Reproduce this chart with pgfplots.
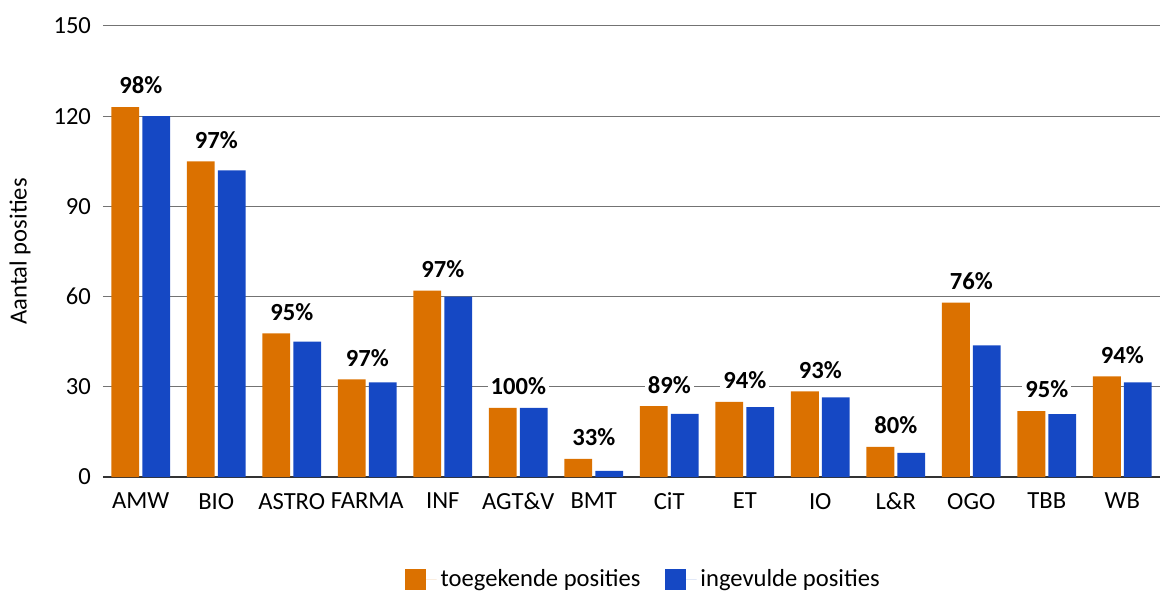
\documentclass[border=0pt]{standalone}
\usepackage{pgfplots}
\pgfplotsset{compat=1.18}
\usepackage{fontspec}
\setmainfont{Carlito}
\definecolor{cor}{HTML}{DB7100}
\definecolor{cbl}{HTML}{1548C4}
\begin{document}
\begin{tikzpicture}
\useasboundingbox (-51.5pt,-58.5pt) rectangle (528.5pt,238.5pt);
\begin{axis}[
  at={(0,0)}, anchor=south west,
  scale only axis, width=528.5pt, height=225.5pt,
  xmin=-0.5, xmax=13.5, ymin=0, ymax=150,
  xtick={0,...,13},
  xticklabels={AMW,BIO,ASTRO,FARMA,INF,AGT\&V,BMT,CiT,ET,IO,L\&R,OGO,TBB,WB},
  ytick={0,30,60,90,120,150},
  major tick length=0pt,
  axis x line*=bottom, axis y line*=left,
  y axis line style={draw=none},
  x axis line style={draw=black!80, line width=0.7pt},
  ymajorgrids, grid style={draw=black!55, line width=0.5pt},
  font=\fontsize{12.3}{14}\selectfont,
  /pgf/number format/assume math mode=true,
  yticklabel style={xshift=-2.5pt},
  xticklabel style={yshift=-4.5pt},
  every axis y label/.style={at={(axis description cs:-0.0785,0.5)}, rotate=90, anchor=center},
  ylabel={Aantal posities},
  legend style={at={(axis description cs:0.512,-0.228)}, anchor=center, draw=none, legend columns=2,
    /tikz/every even column/.append style={column sep=10pt},
    font=\fontsize{12.3}{14}\selectfont},
  legend image code/.code={\fill[#1] (0pt,-5.25pt) rectangle (10.5pt,5.25pt); \path (10.5pt,0pt) -- (16pt,0pt);},
]
\addplot[ybar, bar width=0.37, bar shift=-0.205, fill=cor, draw=none] coordinates {
(0,123) (1,105) (2,47.8) (3,32.5) (4,62) (5,23) (6,6) (7,23.6) (8,25) (9,28.5) (10,10) (11,58) (12,21.9) (13,33.5)};
\addlegendentry{toegekende posities}
\addplot[ybar, bar width=0.37, bar shift=0.205, fill=cbl, draw=none] coordinates {
(0,120) (1,102) (2,45) (3,31.5) (4,60) (5,23) (6,2) (7,21) (8,23.2) (9,26.5) (10,8) (11,43.8) (12,20.9) (13,31.5)};
\addlegendentry{ingevulde posities}
\addplot[draw=none, mark=none, forget plot, nodes near coords, point meta=explicit symbolic,
  nodes near coords style={anchor=center, font=\fontsize{12.3}{14}\selectfont\bfseries, fill=white, inner sep=1.5pt}]
coordinates {
(0,130.3)[98\%] (1,112.1)[97\%] (2,54.9)[95\%] (3,39.6)[97\%] (4,69.1)[97\%] (5,30.2)[100\%] (6,13.1)[33\%]
(7,30.4)[89\%] (8,32.1)[94\%] (9,35.6)[93\%] (10,17.1)[80\%] (11,65)[76\%] (12,29.1)[95\%] (13,40.6)[94\%]};
\end{axis}
\end{tikzpicture}
\end{document}
